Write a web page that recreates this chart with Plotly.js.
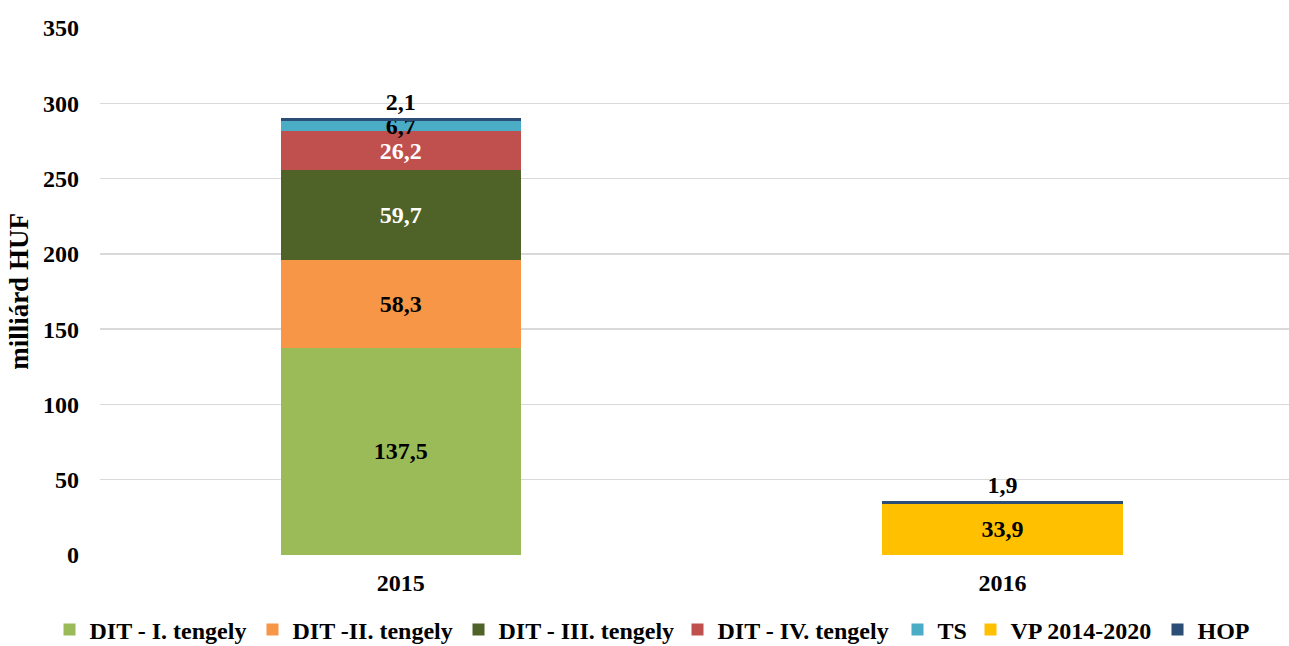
<!DOCTYPE html>
<html>
<head>
<meta charset="utf-8">
<script src="https://cdn.plot.ly/plotly-3.0.1.min.js"></script>
<style>html,body{margin:0;padding:0;background:#fff;}#chart{width:1289px;height:646px;}</style>
</head>
<body>
<div id="chart"></div>
<script>
const categories = ['2015', '2016'];
const seriesNames = ['DIT - I. tengely', 'DIT -II. tengely', 'DIT - III. tengely', 'DIT - IV. tengely', 'TS', 'VP 2014-2020', 'HOP'];
const ditI = [137.5, 0];
const ditII = [58.3, 0];
const ditIII = [59.7, 0];
const ditIV = [26.2, 0];
const ts = [6.7, 0];
const vp = [0, 33.9];
const hop = [2.1, 1.9];
const colors = ['#9BBB59', '#F79646', '#4F6228', '#C0504D', '#4BACC6', '#FFC000', '#2C4D75'];
const labelColors = ['#000000', '#000000', '#ffffff', '#ffffff', '#000000', '#000000', '#000000'];
const yTicks = [0, 50, 100, 150, 200, 250, 300, 350];

const FONT = 'Liberation Serif, Times New Roman, serif';
const W = 1289;
const fmt = v => v === 0 ? '' : '<b>' + v.toFixed(1).replace('.', ',') + '</b>';
const allSeries = [ditI, ditII, ditIII, ditIV, ts, vp, hop];
// left edge (px) of each legend entry box, one legend per series
const legendLeft = [49.5, 252.5, 458.5, 677.5, 897.5, 970.5, 1157.5];

const traces = allSeries.map((vals, i) => ({
  type: 'bar',
  name: '<b>' + seriesNames[i] + '</b>',
  legend: i === 0 ? 'legend' : 'legend' + (i + 1),
  x: categories,
  y: vals,
  marker: {color: colors[i]},
  width: 0.4,
  text: vals.map(fmt),
  textposition: i === 6 ? 'outside' : 'inside',
  insidetextanchor: 'middle',
  textangle: 0,
  constraintext: 'none',
  cliponaxis: false,
  textfont: {family: FONT, size: 24, color: labelColors[i]},
  hoverinfo: 'x+y+name'
}));

const layout = {
  width: W,
  height: 646,
  barmode: 'stack',
  paper_bgcolor: '#ffffff',
  plot_bgcolor: '#ffffff',
  margin: {l: 100, r: 0, t: 27.5, b: 90.5, autoexpand: false},
  font: {family: FONT, size: 24, color: '#000000'},
  xaxis: {
    type: 'category',
    range: [-0.5, 1.476],
    showgrid: false,
    zeroline: false,
    showline: false,
    ticks: '',
    automargin: false,
    ticklabelstandoff: 11,
    tickfont: {family: FONT, size: 24, color: '#000'},
    tickprefix: '<b>', ticksuffix: '</b>'
  },
  yaxis: {
    range: [0, 350],
    tickvals: yTicks,
    ticktext: yTicks.map(v => '<b>' + v + '</b>'),
    showgrid: true,
    gridcolor: '#d9d9d9',
    gridwidth: 1.3,
    zeroline: false,
    showline: false,
    ticks: '',
    automargin: false,
    ticklabelstandoff: 20,
    tickfont: {family: FONT, size: 24, color: '#000'},
    title: {text: '<b>milliárd HUF</b>', font: {family: FONT, size: 27, color: '#000'}, standoff: 6}
  },
  showlegend: true
};

legendLeft.forEach((px, i) => {
  const key = i === 0 ? 'legend' : 'legend' + (i + 1);
  layout[key] = {
    orientation: 'h',
    xref: 'container',
    yref: 'container',
    x: px / W,
    xanchor: 'left',
    y: 0.025,
    yanchor: 'middle',
    bgcolor: 'rgba(0,0,0,0)',
    font: {family: FONT, size: 24, color: '#000'},
    itemwidth: 30
  };
});

Plotly.newPlot('chart', traces, layout, {displayModeBar: false, staticPlot: true});
</script>
</body>
</html>
